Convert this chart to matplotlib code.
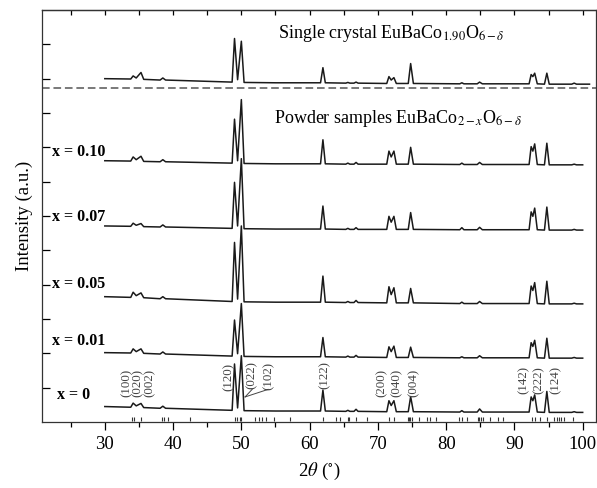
import numpy as np
import matplotlib.pyplot as plt

plt.rcParams['font.family'] = ['Liberation Serif', 'DejaVu Serif']
plt.rcParams['mathtext.fontset'] = 'stix'

two_theta = [30, 33.8, 34.15, 34.6, 35.3, 35.7, 38.1, 38.5, 38.9, 48.65,
             49.0, 49.45, 50.0, 50.4, 55.0, 61.6, 61.95, 62.3, 65.3, 65.6,
             65.9, 66.5, 66.8, 67.1, 71.3, 71.62, 71.95, 72.35, 72.7, 74.45,
             74.8, 75.2, 82.0, 82.3, 82.6, 84.55, 84.9, 85.3, 92.15, 92.45,
             92.7, 92.97, 93.35, 94.4, 94.75, 95.1, 98.4, 98.75, 99.1, 100]
two_theta_sc = two_theta + [101.0]

# intensities (a.u., one unit = one y tick), relative to each trace's own base
I_x000 = [.17, .15, .27, .19, .26, .14, .12, .18, .12, .06,
          1.41, .13, 1.65, .05, .04, .04, .65, .04, .03, .06,
          .03, .03, .09, .03, .02, .34, .20, .34, .02, .02,
          .46, .02, .01, .05, .01, .01, .10, .01, .01, .45,
          .34, .51, .01, 0, .61, 0, 0, .02, 0, 0]
I_x001 = [.16, .15, .27, .19, .27, .14, .12, .18, .12, .06,
          1.11, .13, 1.59, .05, .04, .04, .60, .04, .03, .06,
          .03, .03, .08, .03, .02, .33, .19, .35, .02, .02,
          .32, .02, .01, .04, .01, .01, .07, .01, .01, .45,
          .34, .52, .01, 0, .58, 0, 0, .02, 0, 0]
I_x005 = [.21, .19, .34, .24, .32, .18, .15, .21, .15, .07,
          1.79, .14, 2.27, .06, .05, .05, .81, .05, .04, .07,
          .04, .04, .10, .04, .03, .50, .27, .47, .03, .03,
          .45, .03, .01, .05, .01, .01, .07, .01, .01, .52,
          .39, .62, .01, 0, .66, 0, 0, .02, 0, 0]
I_x007 = [.12, .11, .20, .14, .19, .10, .09, .15, .09, .05,
          1.39, .12, 2.08, .04, .03, .03, .70, .03, .02, .05,
          .02, .02, .07, .02, .02, .40, .23, .40, .02, .02,
          .51, .02, .01, .07, .01, .01, .08, .01, .01, .53,
          .40, .64, .01, 0, .67, 0, 0, .02, 0, 0]
I_x010 = [.12, .11, .23, .15, .25, .10, .09, .15, .09, .05,
          1.33, .12, 1.90, .04, .03, .03, .73, .03, .02, .05,
          .02, .02, .07, .02, .02, .40, .23, .40, .02, .02,
          .51, .02, .01, .05, .01, .01, .07, .01, .01, .53,
          .40, .61, .01, 0, .63, 0, 0, .02, 0, 0]
I_single = [.16, .15, .24, .18, .34, .14, .12, .18, .12, .06,
            1.33, .13, 1.25, .05, .04, .04, .48, .04, .03, .05,
            .03, .03, .06, .03, .02, .22, .12, .19, .02, .02,
            .60, .02, .01, .04, .01, .01, .06, .01, .01, .28,
            .22, .32, .01, 0, .32, 0, 0, .03, 0, 0, 0]

sample_labels = ['x = 0', 'x = 0.01', 'x = 0.05', 'x = 0.07', 'x = 0.10']

# Bragg positions (deg) of the calculated pattern
bragg = [34.0, 34.25, 35.27, 38.39, 38.64, 39.23, 42.5, 49.05, 49.34, 49.82,
         50.01, 52.06, 52.56, 53.04, 53.59, 54.8, 57.15, 62.03, 63.84, 64.47,
         65.55, 65.74, 66.8, 68.38, 71.65, 72.38, 74.39, 74.58, 74.77, 75.02,
         76.04, 77.26, 77.66, 78.49, 81.9, 82.3, 83.08, 84.69, 84.88, 85.08,
         85.47, 86.45, 87.57, 88.4, 92.55, 93.04, 93.77, 94.75, 95.82, 96.21,
         96.55, 96.89, 97.29, 98.65]

hkl = ['(100)', '(020)', '(002)', '(120)', '(022)', '(102)', '(122)',
       '(200)', '(040)', '(004)', '(142)', '(222)', '(124)']

# layout
offsets = [0.28, 1.86, 3.44, 5.59, 7.49]
offset_sc = 9.84
label_y = [0.79, 2.36, 4.02, 5.97, 7.86]
hkl_x = [33.27, 34.88, 36.64, 48.07, 51.58, 54.07, 62.27, 70.5, 72.8, 75.2, 91.3, 93.6, 96.0]
hkl_y = [1.13, 1.13, 1.13, 1.31, 1.37, 1.34, 1.37, 1.14, 1.14, 1.14, 1.22, 1.22, 1.22]

fig = plt.figure(figsize=(5.97, 4.88), dpi=100)
ax = fig.add_axes([42/597, 66/488, 554/597, 412/488])

trace_col = '#1a1a1a'
for y, off in zip([I_x000, I_x001, I_x005, I_x007, I_x010], offsets):
    ax.plot(two_theta, np.array(y) + off, color=trace_col, lw=1.1)
ax.plot(two_theta_sc, np.array(I_single) + offset_sc, color=trace_col, lw=1.1)

ax.axhline(9.72, color='#555555', lw=1.1, ls=(0, (5, 2.5)))

ax.vlines(bragg, 0.04, 0.16, color='#333333', lw=0.8)

for lab, yy in zip(sample_labels, label_y):
    xx = 23.0 if lab == 'x = 0' else 22.3
    ax.text(xx, yy, lab, fontsize=11.5, fontweight='bold', ha='left', va='center')

for lab, xx, yy in zip(hkl, hkl_x, hkl_y):
    ax.text(xx, yy, lab, fontsize=9.3, rotation=90, ha='center', va='center', color='#444444')
ax.plot([50.55, 51.58], [0.73, 0.95], color='#444444', lw=0.7)
ax.plot([50.55, 53.92], [0.73, 0.95], color='#444444', lw=0.7)

ax.text(55.4, 11.33, r'Single crystal EuBaCo$_{1.90}$O$_{6-\delta}$', fontsize=13, va='center')
ax.text(54.8, 8.85, r'Powder samples EuBaCo$_{2-x}$O$_{6-\delta}$', fontsize=13, va='center')

ax.set_xlim(20.8, 101.95)
ax.set_ylim(0, 12)
ax.set_xticks(np.arange(30, 101, 10))
ax.set_xticks(np.arange(25, 100, 10), minor=True)
ax.set_yticks(np.arange(1, 12))
ax.set_yticklabels([])
ax.tick_params(axis='x', which='major', direction='out', length=6, width=0.9, labelsize=13.5, pad=4)
ax.tick_params(axis='x', which='minor', direction='out', length=3.5, width=0.9)
ax.tick_params(axis='y', direction='in', length=5.8, width=0.9)
for s in ax.spines.values():
    s.set_color('#333333')
    s.set_linewidth(0.9)

top = ax.secondary_xaxis('top')
top.set_xticks(np.arange(25, 101, 5))
top.tick_params(direction='in', length=3.5, width=0.9, labeltop=False)
top.spines['top'].set_color('#333333')
top.spines['top'].set_linewidth(0.9)

ax.set_xlabel(r'2$\theta$ ($^{\circ}$)', fontsize=13.5, labelpad=6)
ax.set_ylabel('Intensity (a.u.)', fontsize=13.5, labelpad=3)

fig.savefig('out.png', dpi=100)
